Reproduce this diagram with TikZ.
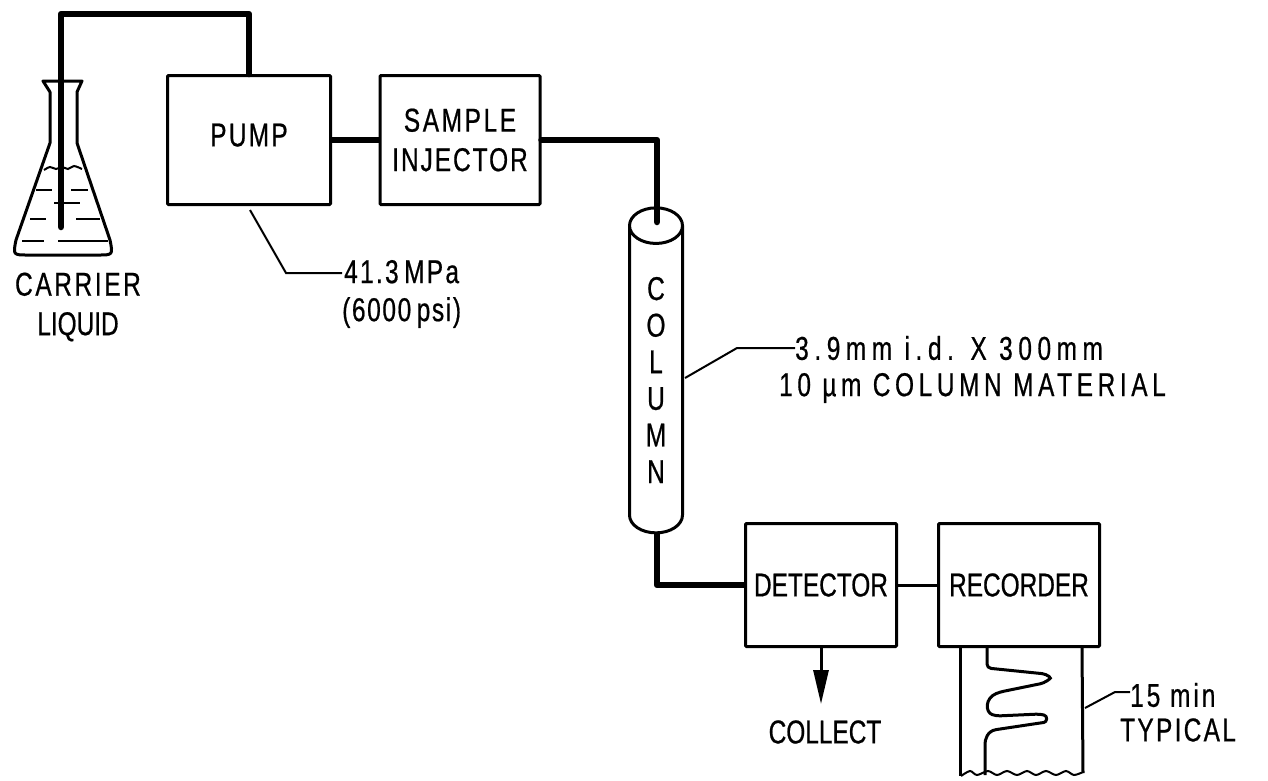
\documentclass[tikz,border=0pt]{standalone}
\usepackage{fontspec}
\setmainfont[FakeStretch=0.74,FakeBold=0.6]{Liberation Sans}
\usetikzlibrary{positioning,shapes.geometric,arrows.meta,calc}
\newcommand{\labelfont}{\fontsize{33}{39.5}\selectfont}
\newcommand{\spaced}[2]{{\addfontfeature{LetterSpace=#1}#2}}
\tikzset{
  unitbox/.style  = {draw, line width=3pt, rounded corners=1pt, minimum width=#1, minimum height=129pt, inner sep=0pt, align=center, font=\labelfont},
  unitbox/.default = 150pt,
  caption/.style  = {align=center, inner sep=0pt, font=\labelfont},
  pipe/.style     = {line width=6.5pt, line join=round},
  wire/.style     = {line width=3pt},
  lead/.style     = {line width=2pt},
  outflow/.style  = {line width=3pt, -{Triangle[length=34pt,width=15pt]}},
  glass/.style    = {line width=3pt, line join=round},
  level/.style    = {line width=2pt},
}
\begin{document}
\begin{tikzpicture}[x=1pt,y=-1pt]
\useasboundingbox (0,0) rectangle (1268,780);

%% units
\node[unitbox=163pt]                       (pump) at (249,140) {\spaced{7}{PUMP}\rule[-10pt]{0pt}{1pt}};
\node[unitbox=160pt, right=46.5pt of pump] (inj)  {\spaced{8}{SAMPLE}\\\spaced{6}{INJECTOR}};
\node[cylinder, draw, line width=3pt, shape border rotate=90, aspect=1.75,
      minimum width=53pt, minimum height=325pt, inner sep=0pt, align=center,
      font=\fontsize{33}{36.6}\selectfont]
      (column) at (656,380) {C\\O\\L\\U\\M\\N};
\node[unitbox=151pt, minimum height=123pt] (det) at (821,585) {DETECTOR};
\node[unitbox=161pt, minimum height=123pt, right=39pt of det] (rec) {RECORDER};

%% flask
\draw[glass] (43,81) -- (82,81) -- (77,92) -- (77,143) -- (110,240)
  .. controls (113,255) .. (98,255) -- (28,255) .. controls (13,255) .. (16,240)
  -- (50,143) -- (50,92) -- cycle;
\draw[level] plot[smooth] coordinates {(44,170) (50,167) (56,169) (62,167) (68,169) (74,166) (82,169)};
\foreach \xa/\xb/\ya in {36/52/190, 71/88/190, 54/80/203, 30/46/219, 76/100/219, 22/44/241, 58/108/241}
  \draw[level] (\xa,\ya) -- (\xb,\ya);
\coordinate (tubeend) at (61,227);
\coordinate (tubetop) at (61,14);

%% piping
\draw[pipe, line cap=round] (tubeend) -- (tubetop) -| (pump.north);
\draw[pipe] (pump.east) -- (inj.west);
\coordinate (columntop) at (657,222);
\draw[pipe, line cap=round] (inj.east) -| (columntop);
\draw[pipe] (column.south -| columntop) |- (det.west);
\draw[wire] (det.east) -- (rec.west);

%% collect
\coordinate (arrowend) at (821,704);
\draw[outflow] (det.south) -- (arrowend);
\node[caption] (collect) at (825,732) {COLLECT};

%% chart paper
\draw[wire] (960,648) -- (960,776);
\draw[wire] (1082,648) -- (1083,773);
\draw[level] plot[smooth] coordinates {(961,776) (970,771) (977,775) (988,771) (997,775) (1007,771) (1017,775) (1027,771) (1036,775) (1046,771) (1056,775) (1066,771) (1074,775) (1083,772)};
\draw[wire, rounded corners=4pt] (987,648) -- (987,668) -- (1046,674)
  .. controls (1051,678) .. (1044,683) -- (1000,692) .. controls (985,698) and (985,712) .. (996,716)
  -- (1040,714) .. controls (1048,716) and (1047,722) .. (1040,723) -- (1000,729)
  .. controls (987,731) and (985,740) .. (985,748) -- (985,775);

%% captions
\node[caption] (carrier) at (78,307) {\spaced{8}{CARRIER}\\LIQUID};
\node[caption, anchor=west, font=\fontsize{33}{38}\selectfont] (pumplabel) at (342,294) {\spaced{7}{41.3\,MPa}\\\spaced{5}{(6000\,psi)}};
\node[caption, anchor=west] (collabel) at (795,348) {\spaced{17}{3.9\,mm i.d. X 300\,mm}};
\node[caption, anchor=west] (colmat)   at (779,388) {\spaced{14}{10 µm COLUMN MATERIAL}};
\node[caption, anchor=west] (chartlabel) at (1130,695) {\spaced{9}{15 min}};
\node[caption, anchor=west] (typical)    at (1120,730) {\spaced{7}{TYPICAL}};

%% leaders
\coordinate (pumpfoot) at (250,210);
\coordinate (colfoot) at (685,378);
\coordinate (paperfoot) at (1085,708);
\draw[lead] (pumpfoot) -- (286,273) -- (pumplabel.west |- 0,273);
\draw[lead] (colfoot) -- (737,348) -- (collabel.west);
\draw[lead] (paperfoot) -- (1115,692) -- (chartlabel.west |- 0,692);

\end{tikzpicture}
\end{document}
